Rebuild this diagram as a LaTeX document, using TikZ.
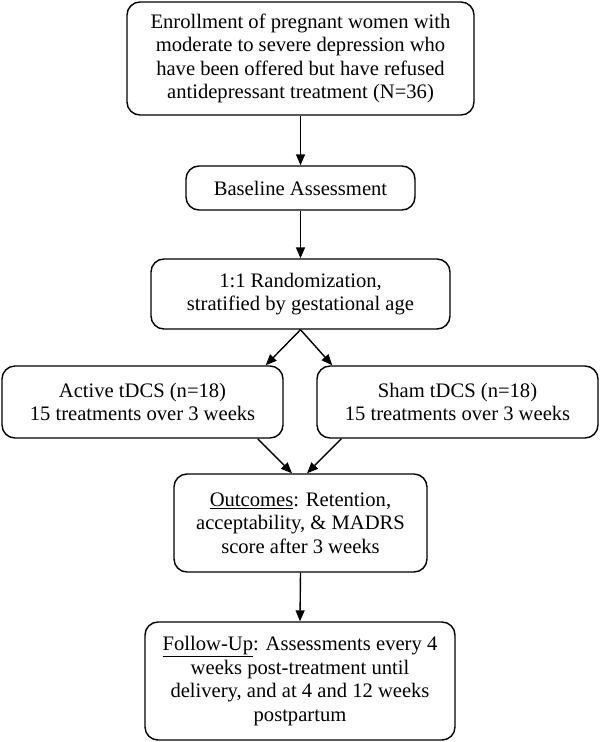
\documentclass[tikz,border=0pt]{standalone}
\usepackage{fontspec}
\setmainfont{Liberation Serif}
\usetikzlibrary{arrows.meta,calc}
\begin{document}
\begin{tikzpicture}[x=1pt,y=-1pt,
  box/.style={draw=black,line width=1.4pt,rounded corners=13pt,align=center,
    inner sep=0pt,font=\fontsize{20.6pt}{23.5pt}\selectfont},
  arr/.style={line width=1.4pt,-{Triangle[length=11pt,width=9pt]}}]
\useasboundingbox (0,0) rectangle (600,742);
\node[box,minimum width=347pt,minimum height=113pt] (enrol) at (300.5,58.5)
  {Enrollment of pregnant women with\\moderate to severe depression who\\have been offered but have refused\\antidepressant treatment (N=36)};
\node[box,minimum width=229pt,minimum height=44pt] (base) at (300.5,188) {Baseline Assessment};
\node[box,minimum width=299pt,minimum height=70pt] (rand) at (300.5,294)
  {1:1 Randomization,\\stratified by gestational age};
\node[box,minimum width=281pt,minimum height=72pt] (active) at (142.5,402)
  {Active tDCS (n=18)\\15 treatments over 3 weeks};
\node[box,minimum width=281pt,minimum height=72pt] (sham) at (457.5,402)
  {Sham tDCS (n=18)\\15 treatments over 3 weeks};
\node[box,minimum width=253pt,minimum height=98pt] (out) at (300.5,523)
  {\underline{Outcomes}: Retention,\\acceptability, \& MADRS\\score after 3 weeks};
\node[box,minimum width=310pt,minimum height=118pt] (follow) at (300,681)
  {\underline{Follow-Up}: Assessments every 4\\weeks post-treatment until\\delivery, and at 4 and 12 weeks\\postpartum};
\coordinate (aIn) at ($(active.north east)+(-18,0)$);
\coordinate (sIn) at ($(sham.north west)+(16,0)$);
\coordinate (aOut) at ($(active.south east)+(-26,0)$);
\coordinate (sOut) at ($(sham.south west)+(25,0)$);
\coordinate (oInA) at ($(out.north)+(-8.5,0)$);
\coordinate (oInS) at ($(out.north)+(6.5,0)$);
\draw[arr] (enrol.south) -- (base.north);
\draw[arr] (base.south) -- (rand.north);
\draw[arr] (rand.south) -- (aIn);
\draw[arr] (rand.south) -- (sIn);
\draw[arr] (aOut) -- (oInA);
\draw[arr] (sOut) -- (oInS);
\draw[arr] (out.south) -- (follow.north);
\end{tikzpicture}
\end{document}
